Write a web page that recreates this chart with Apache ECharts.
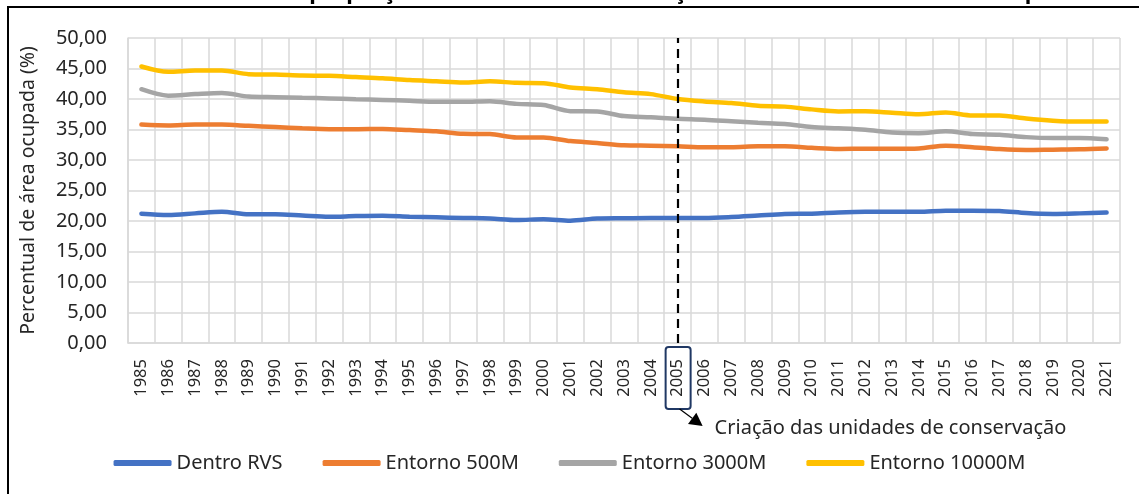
<!DOCTYPE html>
<html>
<head>
<meta charset="utf-8">
<script src="https://cdn.jsdelivr.net/npm/echarts@6/dist/echarts.min.js"></script>
<style>
  html, body { margin: 0; padding: 0; background: #fff; }
  #chart { width: 1139px; height: 494px; }
</style>
</head>
<body>
<div id="chart"></div>
<script>
// anos
var years = ['1985', '1986', '1987', '1988', '1989', '1990', '1991', '1992', '1993', '1994',
  '1995', '1996', '1997', '1998', '1999', '2000', '2001', '2002', '2003', '2004',
  '2005', '2006', '2007', '2008', '2009', '2010', '2011', '2012', '2013', '2014',
  '2015', '2016', '2017', '2018', '2019', '2020', '2021']

// percentual de area ocupada (%)
var dentroRVS = [21.2, 21.0, 21.25, 21.5, 21.1, 21.1, 20.9, 20.7, 20.8, 20.85,
  20.7, 20.6, 20.5, 20.4, 20.15, 20.3, 20.05, 20.4, 20.45, 20.5,
  20.5, 20.5, 20.65, 20.9, 21.15, 21.2, 21.4, 21.5, 21.5, 21.5,
  21.7, 21.7, 21.65, 21.3, 21.15, 21.25, 21.4]
var entorno500 = [35.8, 35.65, 35.8, 35.8, 35.6, 35.4, 35.2, 35.05, 35.05, 35.1,
  34.9, 34.7, 34.3, 34.25, 33.7, 33.7, 33.1, 32.8, 32.4, 32.35,
  32.25, 32.1, 32.1, 32.25, 32.25, 32.0, 31.8, 31.85, 31.85, 31.9,
  32.35, 32.1, 31.8, 31.65, 31.7, 31.75, 31.9]
var entorno3000 = [41.6, 40.55, 40.8, 41.0, 40.4, 40.3, 40.2, 40.1, 39.95, 39.85,
  39.7, 39.55, 39.55, 39.65, 39.2, 39.0, 38.0, 37.95, 37.2, 37.0,
  36.75, 36.6, 36.35, 36.1, 35.9, 35.4, 35.2, 34.95, 34.5, 34.4,
  34.7, 34.25, 34.15, 33.75, 33.6, 33.6, 33.4]
var entorno10000 = [45.33, 44.45, 44.67, 44.67, 44.07, 44.0, 43.85, 43.8, 43.6, 43.4,
  43.1, 42.9, 42.7, 42.9, 42.65, 42.6, 41.9, 41.6, 41.1, 40.8,
  40.0, 39.6, 39.35, 38.9, 38.75, 38.3, 37.97, 38.0, 37.75, 37.5,
  37.8, 37.3, 37.3, 36.8, 36.45, 36.3, 36.3]

var marcoAno = '2005'
var marcoTexto = 'Criação das unidades de conservação'

var font = 'Noto Sans'
var gridColor = '#d9d9d9'

function serie (name, data, color) {
  return {
    name: name,
    type: 'line',
    data: data,
    smooth: 0.3,
    showSymbol: false,
    symbol: 'none',
    color: color,
    lineStyle: { width: 4.5, color: color, cap: 'round' },
    emphasis: { disabled: true }
  }
}

var myChart = echarts.init(document.getElementById('chart'))
var series = [
  serie('Dentro RVS', dentroRVS, '#4472c4'),
  serie('Entorno 500M', entorno500, '#ed7d31'),
  serie('Entorno 3000M', entorno3000, '#a5a5a5'),
  serie('Entorno 10000M', entorno10000, '#ffc000')
]
// linha tracejada no ano de criacao
series[0].markLine = {
  silent: true,
  symbol: 'none',
  label: { show: false },
  lineStyle: { color: '#000', type: [9, 6], width: 2.2 },
  data: [{ xAxis: marcoAno }]
}

myChart.setOption({
  animation: false,
  textStyle: { fontFamily: font },
  grid: { left: 128, right: 19, top: 38, bottom: 151 },
  legend: {
    bottom: 16,
    left: 'center',
    icon: 'roundRect',
    itemWidth: 58,
    itemHeight: 6,
    itemGap: 40,
    textStyle: { fontSize: 20, color: '#262626', fontFamily: font },
    data: ['Dentro RVS', 'Entorno 500M', 'Entorno 3000M', 'Entorno 10000M']
  },
  xAxis: {
    type: 'category',
    data: years,
    boundaryGap: true,
    axisLine: { lineStyle: { color: gridColor, width: 1.5 } },
    axisTick: { show: false },
    splitLine: { show: true, lineStyle: { color: gridColor, width: 1.5 } },
    axisLabel: { rotate: 90, fontSize: 16.5, color: '#262626', margin: 16, interval: 0 }
  },
  yAxis: {
    type: 'value',
    min: 0,
    max: 50,
    interval: 5,
    name: 'Percentual de área ocupada (%)',
    nameLocation: 'middle',
    nameGap: 90,
    nameTextStyle: { fontSize: 19.5, color: '#262626' },
    axisLine: { show: true, lineStyle: { color: gridColor, width: 1.5 } },
    splitLine: { lineStyle: { color: gridColor, width: 1.5 } },
    axisLabel: {
      fontSize: 20,
      color: '#262626',
      margin: 21,
      formatter: function (v) { return v.toFixed(2).replace('.', ',') }
    }
  },
  series: series
})

// anotacao: caixa no ano, seta e texto
var px = myChart.convertToPixel({ xAxisIndex: 0 }, marcoAno)
var boxTop = 347
var boxBottom = 409
var start = [px + 2, boxBottom]
var tip = [px + 25, 426]
var dx = tip[0] - start[0]
var dy = tip[1] - start[1]
var len = Math.sqrt(dx * dx + dy * dy)
var ux = dx / len
var uy = dy / len
var base = [tip[0] - 13 * ux, tip[1] - 13 * uy]
var head = [tip, [base[0] - 7 * uy, base[1] + 7 * ux], [base[0] + 7 * uy, base[1] - 7 * ux]]

myChart.setOption({
  graphic: [
    {
      type: 'rect',
      shape: { x: 8, y: 7, width: 1150, height: 520 },
      style: { fill: 'none', stroke: '#000', lineWidth: 2 },
      silent: true
    },
    {
      type: 'text',
      style: {
        x: -34,
        y: 4,
        text: 'Figura 10 – Análise histórica da proporção de áreas com urbanização dentro e no entorno do RVS por ano',
        font: 'bold 22px "Noto Sans"',
        fill: '#000',
        verticalAlign: 'bottom'
      },
      silent: true
    },
    {
      type: 'rect',
      shape: { x: px - 12, y: boxTop, width: 25, height: boxBottom - boxTop, r: 3 },
      style: { fill: 'none', stroke: '#203864', lineWidth: 2 },
      silent: true
    },
    {
      type: 'line',
      shape: { x1: start[0], y1: start[1], x2: base[0], y2: base[1] },
      style: { stroke: '#000', lineWidth: 1.2 },
      silent: true
    },
    {
      type: 'polygon',
      shape: { points: head },
      style: { fill: '#000' },
      silent: true
    },
    {
      type: 'text',
      style: {
        x: px + 37,
        y: 428,
        text: marcoTexto,
        font: '20px "Noto Sans"',
        fill: '#262626',
        verticalAlign: 'middle'
      },
      silent: true
    }
  ]
})

window.addEventListener('resize', function () {
  myChart.resize()
})
</script>
</body>
</html>
